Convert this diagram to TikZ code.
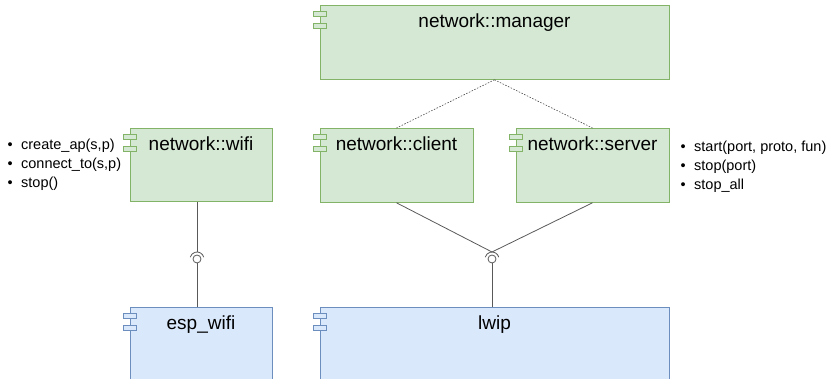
\documentclass[tikz,border=0pt]{standalone}
\usepackage{fontspec}
\setmainfont{Liberation Sans}
\usepackage{tikz}
\usetikzlibrary{calc,positioning}

\definecolor{netfill}{HTML}{D5E8D4}
\definecolor{netline}{HTML}{82B366}
\definecolor{libfill}{HTML}{DAE8FC}
\definecolor{libline}{HTML}{6C8EBF}

\tikzset{
  comp/.style={inner sep=0pt, anchor=north, text height=22.5pt, line width=0.8pt,
    font=\fontsize{19}{22}\selectfont},
  netpart/.style={draw=netline, fill=netfill},
  libpart/.style={draw=libline, fill=libfill},
  link/.style={draw=black!65, line width=0.8pt},
  uses/.style={draw=black!70, line width=0.6pt, dash pattern=on 1.5pt off 1.5pt},
  item/.style={inner sep=0pt, anchor=base west, font=\fontsize{14.5}{17}\selectfont}
}

\begin{document}
\begin{tikzpicture}[x=1pt,y=1pt]
                \useasboundingbox (0,0) rectangle (830,379);

                \node[comp, netpart, minimum width=349pt, text depth=51.5pt] (manager) at (494.5,374) {network::manager};
                \node[comp, netpart, minimum width=153pt, text depth=51.5pt] (client) at (396.5,251) {network::client};
                \node[comp, netpart, minimum width=153pt, text depth=51.5pt] (server) at (592.5,251) {network::server};
                \node[comp, netpart, minimum width=142pt, text depth=50.5pt] (wifi) at (201,251) {network::wifi};
                \node[comp, libpart, minimum width=142pt, text depth=57.5pt] (espwifi) at (201,72) {esp\_wifi};
                \node[comp, libpart, minimum width=349pt, text depth=57.5pt] (lwip) at (494.5,72) {lwip};

                % component marks on the left edges
                \foreach \n/\s in {manager/netpart, client/netpart, server/netpart, wifi/netpart, espwifi/libpart, lwip/libpart} {
                    \draw[\s, line width=0.6pt] ($(\n.north west)+(-6.5,-6.5)$) rectangle ($(\n.north west)+(6.5,-11.5)$);
                    \draw[\s, line width=0.6pt] ($(\n.north west)+(-6.5,-18.5)$) rectangle ($(\n.north west)+(6.5,-23.5)$);
                }

                \draw[uses] (manager.south) -- (client.north);
                \draw[uses] (manager.south) -- (server.north);

                % provided/required interfaces
                \node[circle, link, minimum size=8pt, inner sep=0pt] (ballL) at (197,120) {};
                \node[circle, link, minimum size=8pt, inner sep=0pt] (ballR) at (492,120) {};
                \coordinate (cupL) at ($(ballL.center)+(0,7)$);
                \coordinate (cupR) at ($(ballR.center)+(0,7)$);
                \draw[link] ($(ballL.center)+(15:7)$) arc[start angle=15, end angle=165, radius=7pt];
                \draw[link] ($(ballR.center)+(15:7)$) arc[start angle=15, end angle=165, radius=7pt];

                \draw[link] (ballL |- wifi.south) -- (cupL);
                \draw[link] (ballL.south) -- (ballL |- espwifi.north);
                \draw[link] (client.south) -- (cupR);
                \draw[link] (server.south) -- (cupR);
                \draw[link] (ballR.south) -- (ballR |- lwip.north);

                \foreach \t [count=\i] in {{create\_ap(s,p)}, {connect\_to(s,p)}, {stop()}}
                    \node[item] (wifiop\i) at (7.5,248-19*\i) {\textbullet\hspace{8.4pt}\t};
                \foreach \t [count=\i] in {{start(port, proto, fun)}, {stop(port)}, {stop\_all}}
                    \node[item] (serverop\i) at (680.5,246.5-19*\i) {\textbullet\hspace{8.4pt}\t};
            \end{tikzpicture}
\end{document}
